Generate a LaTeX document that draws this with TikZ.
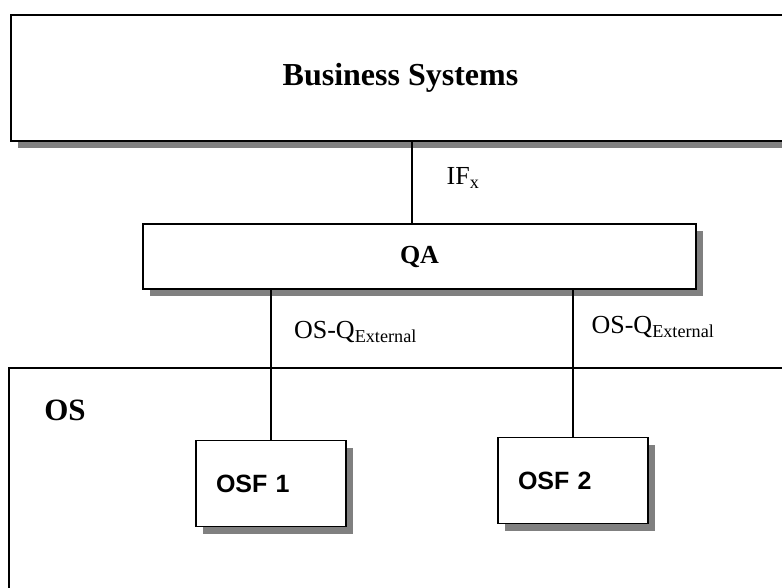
\documentclass[tikz,border=0pt]{standalone}
\usepackage{fontspec}
\setmainfont{Liberation Serif}
\newfontfamily\osffont{Liberation Sans}
\usetikzlibrary{shadows}

\begin{document}
\begin{tikzpicture}[x=1pt,y=-1pt,line width=1.3pt]
    \tikzstyle{block}=[draw=black,fill=white,rectangle,inner sep=0pt]
    \tikzstyle{shadowed block}=[block,drop shadow={shadow xshift=7pt,shadow yshift=-7pt,fill=black!50,opacity=1}]
    \tikzstyle{osf}=[shadowed block,minimum height=86pt,text width=110pt,align=left,inner xsep=20pt,font=\osffont\bfseries\fontsize{25}{30}\selectfont]
    \tikzstyle{interface}=[inner sep=0pt,font=\fontsize{26}{30}\selectfont]

    \clip (0,0) rectangle (782,587);

    % Draw the OS domain
    \node[block,minimum width=791pt,minimum height=252pt] (OS) at (404.5,494) {};
    \node[inner sep=0pt,font=\bfseries\fontsize{31}{36}\selectfont] (OS-label) at (65,410) {OS};

    % Draw the business systems and the QA layer
    \node[shadowed block,minimum width=779pt,minimum height=126pt,font=\bfseries\fontsize{32}{38}\selectfont] (BS) at (400.5,78) {Business Systems};
    \node[shadowed block,minimum width=553pt,minimum height=65pt,font=\bfseries\fontsize{26}{30}\selectfont] (QA) at (419.5,256.5) {QA};

    % Draw the OS functions
    \node[osf] (OSF-1) at (271,483.5) {OSF 1};
    \node[osf] (OSF-2) at (573,480.5) {OSF 2};

    % Connect the layers
    \draw ([xshift=-7.5pt]QA.north) -- ([xshift=-7.5pt]QA.north |- BS.south);
    \foreach \name in {1,2}
        \draw (OSF-\name.north) -- (OSF-\name.north |- QA.south);

    % Annotate the interfaces
    \node[interface] (IF) at (463,178) {IF\textsubscript{x}};
    \node[interface] (Q-1) at (355.5,332) {OS-Q\textsubscript{External}};
    \node[interface] (Q-2) at (653,327) {OS-Q\textsubscript{External}};
\end{tikzpicture}
\end{document}
